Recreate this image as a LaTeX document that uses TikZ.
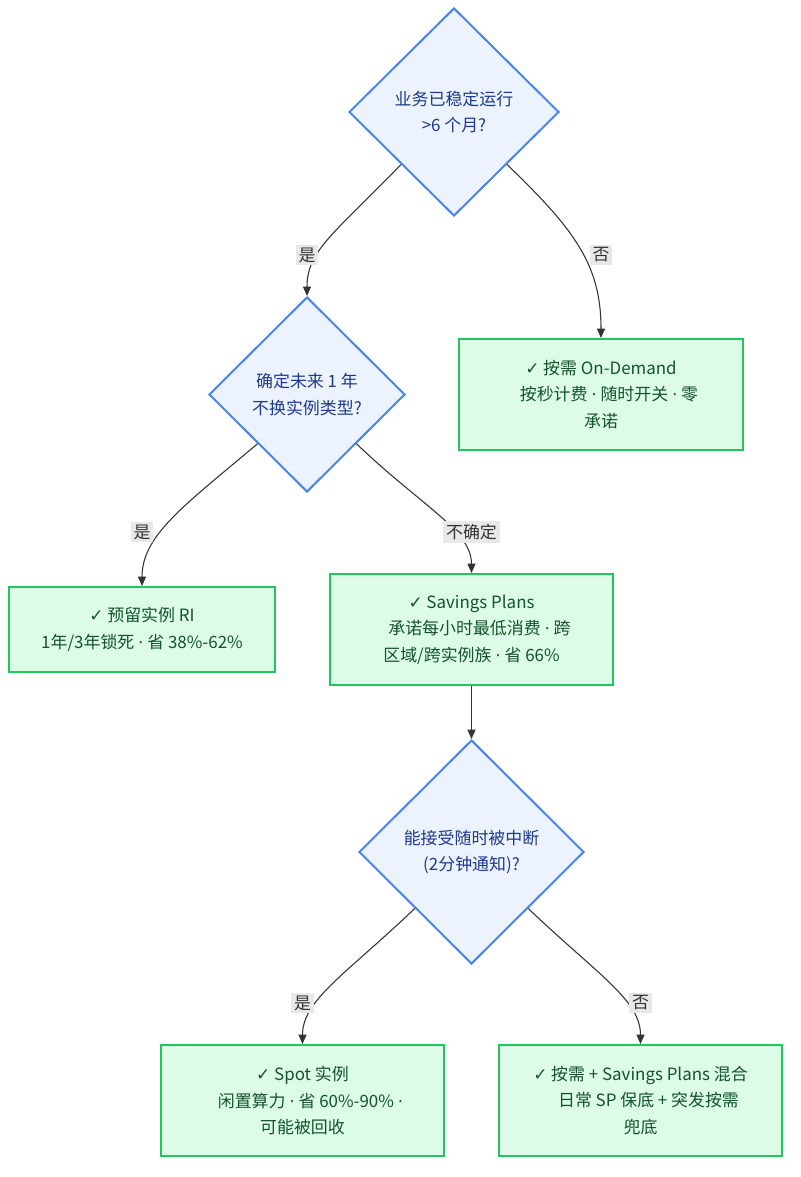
\documentclass[tikz,border=0pt]{standalone}
\usepackage{fontspec}
\setmainfont{Noto Sans CJK SC}
\newfontfamily\symfont{DejaVu Sans}
\usetikzlibrary{shapes.geometric,arrows.meta}
\definecolor{dfill}{HTML}{ECF3FE}
\definecolor{dline}{HTML}{4A86E8}
\definecolor{dtext}{HTML}{1E3A8A}
\definecolor{bfill}{HTML}{DCFCE7}
\definecolor{bline}{HTML}{22C55E}
\definecolor{btext}{HTML}{14532D}
\definecolor{eline}{HTML}{333333}
\definecolor{lblbg}{HTML}{E8E8E8}
\newcommand{\ck}{{\symfont ✓}}
\newcommand{\md}{{\symfont ·}}
\newcommand{\lead}{\hspace*{12pt}}
\begin{document}
\begin{tikzpicture}[x=0.75pt,y=-0.75pt,
  every node/.style={font=\fontsize{12.7pt}{20pt}\selectfont},
  decision/.style={diamond, draw=dline, line width=1.5pt, fill=dfill, text=dtext, align=center, inner sep=0pt},
  result/.style={rectangle, draw=bline, line width=1.5pt, fill=bfill, text=btext, align=center, inner sep=0pt},
  flow/.style={draw=eline, line width=0.8pt, -{Triangle[length=7pt,width=6pt]}},
  lbl/.style={fill=lblbg, text=eline, inner sep=2pt}
]
\useasboundingbox (0,0) rectangle (800,1177);

\node[decision, minimum width=157.5pt, minimum height=156pt] (D1) at (454,112) {业务已稳定运行\\>6 个月?};
\node[decision, minimum width=147pt, minimum height=146.25pt] (D2) at (307,394.5) {确定未来 1 年\\不换实例类型?};
\node[decision, minimum width=168.75pt, minimum height=168pt] (D3) at (471.5,852) {能接受随时被中断\\(2分钟通知)?};

\node[result, minimum width=213pt, minimum height=83.25pt] (OD) at (601,394.5) {\ck{} 按需 On-Demand\\\lead 按秒计费 \md{} 随时开关 \md{} 零\\承诺};
\node[result, minimum width=199.5pt, minimum height=63.75pt] (RI) at (142,629.5) {\ck{} 预留实例 RI\\1年/3年锁死 \md{} 省 38\%-62\%};
\node[result, minimum width=212.25pt, minimum height=83.25pt] (SP) at (471.5,629.5) {\ck{} Savings Plans\\\lead 承诺每小时最低消费 \md{} 跨\\区域/跨实例族 \md{} 省 66\%};
\node[result, minimum width=212.25pt, minimum height=83.25pt] (SPOT) at (302.5,1100.5) {\ck{} Spot 实例\\\lead 闲置算力 \md{} 省 60\%-90\% \md\\可能被回收};
\node[result, minimum width=212.25pt, minimum height=83.25pt] (MIX) at (640.5,1100.5) {\ck{} 按需 + Savings Plans 混合\\\lead 日常 SP 保底 + 突发按需\\兜底};

\draw[flow] (D1.south west) .. controls (335,233) and (307,250) .. (D2.north);
\draw[flow] (D1.south east) .. controls (575,230) and (601,265) .. (OD.north);
\draw[flow] (D2.south west) .. controls (185,505) and (142,535) .. (RI.north);
\draw[flow] (D2.south east) .. controls (420,505) and (471.5,530) .. (SP.north);
\draw[flow] (SP.south) -- (D3.north);
\draw[flow] (D3.south west) .. controls (345,975) and (302.5,1000) .. (SPOT.north);
\draw[flow] (D3.south east) .. controls (598,975) and (640.5,1000) .. (MIX.north);

\node[lbl] (L1) at (307,255) {是};
\node[lbl] (L2) at (601,255) {否};
\node[lbl] (L3) at (142,532) {是};
\node[lbl] (L4) at (471.5,532) {不确定};
\node[lbl] (L5) at (302.5,1003) {是};
\node[lbl] (L6) at (640.5,1003) {否};
\end{tikzpicture}
\end{document}
